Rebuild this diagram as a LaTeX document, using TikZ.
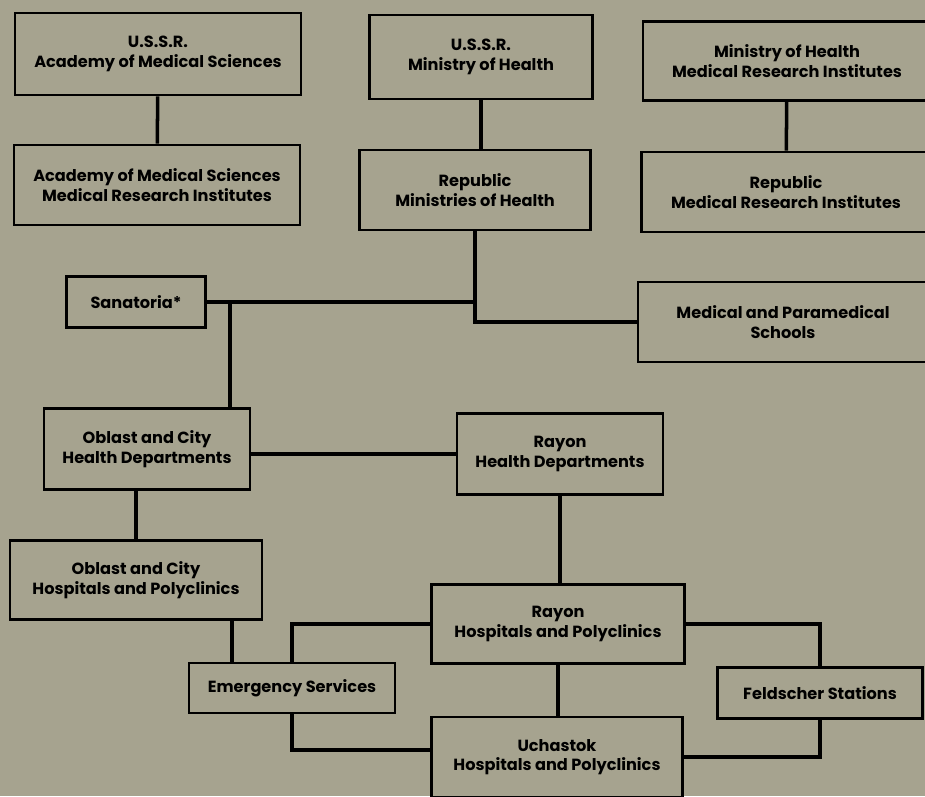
\documentclass[tikz,border=0pt]{standalone}
\usepackage{fontspec}
\setmainfont{Poppins}
\definecolor{paper}{RGB}{166,163,143}
\begin{document}
\begin{tikzpicture}[x=0.02cm, y=-0.02cm,
	office/.style={draw, rectangle, line width=1.6pt, align=center, inner sep=0pt,
		font=\fontsize{9.2}{11}\selectfont\bfseries},
	link/.style={line width=2pt}]
				\useasboundingbox (0,0) rectangle (925,796);
				\fill[paper] (0,0) rectangle (925,796);
				\clip (0,0) rectangle (925,796);

				% Union level
				\node[office, minimum width=5.72cm, minimum height=1.64cm] (ussrams) at (158,54) {U.S.S.R.\\Academy of Medical Sciences};
				\node[office, minimum width=5.72cm, minimum height=1.6cm] (amsmri) at (157,185) {Academy of Medical Sciences\\Medical Research Institutes};
				\node[office, minimum width=4.46cm, minimum height=1.68cm] (ussrmoh) at (481,57) {U.S.S.R.\\Ministry of Health};
				\node[office, minimum width=5.76cm, minimum height=1.58cm] (mohmri) at (787,61) {Ministry of Health\\Medical Research Institutes};

				% Republic level
				\node[office, minimum width=4.62cm, minimum height=1.6cm] (rmoh) at (475,190) {Republic\\Ministries of Health};
				\node[office, minimum width=5.78cm, minimum height=1.6cm] (rmri) at (786,192) {Republic\\Medical Research Institutes};
				\node[office, minimum width=2.78cm, minimum height=1.02cm] (sanatoria) at (136,302) {Sanatoria*};
				\node[office, minimum width=5.8cm, minimum height=1.6cm] (schools) at (783,322) {Medical and Paramedical\\Schools};

				% Oblast and rayon level
				\node[office, minimum width=4.12cm, minimum height=1.62cm] (oblasthd) at (147,449) {Oblast and City\\Health Departments};
				\node[office, minimum width=4.12cm, minimum height=1.62cm] (rayonhd) at (560,454) {Rayon\\Health Departments};
				\node[office, minimum width=5.04cm, minimum height=1.58cm] (oblasthp) at (136,580) {Oblast and City\\Hospitals and Polyclinics};
				\node[office, minimum width=5.06cm, minimum height=1.58cm] (rayonhp) at (558,624) {Rayon\\Hospitals and Polyclinics};
				\node[office, minimum width=4.12cm, minimum height=1.0cm] (emerg) at (292,688) {Emergency Services};
				\node[office, minimum width=4.1cm, minimum height=1.02cm] (feldscher) at (820,693) {Feldscher Stations};
				\node[office, minimum width=5.02cm, minimum height=1.6cm] (uchastok) at (557,757) {Uchastok\\Hospitals and Polyclinics};

				% Links
				\draw[link] (ussrams) -- (amsmri);
				\draw[link] (ussrmoh) -- (ussrmoh |- rmoh.north);
				\draw[link] (mohmri) -- (rmri);
				\draw[link] (rmoh.south) |- (schools.west);
				\draw[link] (sanatoria.east) -- (rmoh.south |- sanatoria.east);
				\coordinate (sanajoin) at (230,302);
				\draw[link] (sanajoin) -- (sanajoin |- oblasthd.north);
				\draw[link] (rayonhd.west) -- (rayonhd.west -| oblasthd.east);
				\draw[link] (oblasthp.north) -- (oblasthp.north |- oblasthd.south);
				\draw[link] (rayonhd.south) -- (rayonhd.south |- rayonhp.north);
				\draw[link] ([xshift=1.92cm]oblasthp.south) -- ([xshift=1.92cm]oblasthp.south |- emerg.north);
				\draw[link] (rayonhp.west) -| (emerg.north);
				\draw[link] (emerg.south) |- ([yshift=0.14cm]uchastok.west);
				\draw[link] (rayonhp.east) -| (feldscher.north);
				\draw[link] (feldscher.south) |- (uchastok.east);
				\draw[link] (rayonhp.south) -- (rayonhp.south |- uchastok.north);
			\end{tikzpicture}
\end{document}
